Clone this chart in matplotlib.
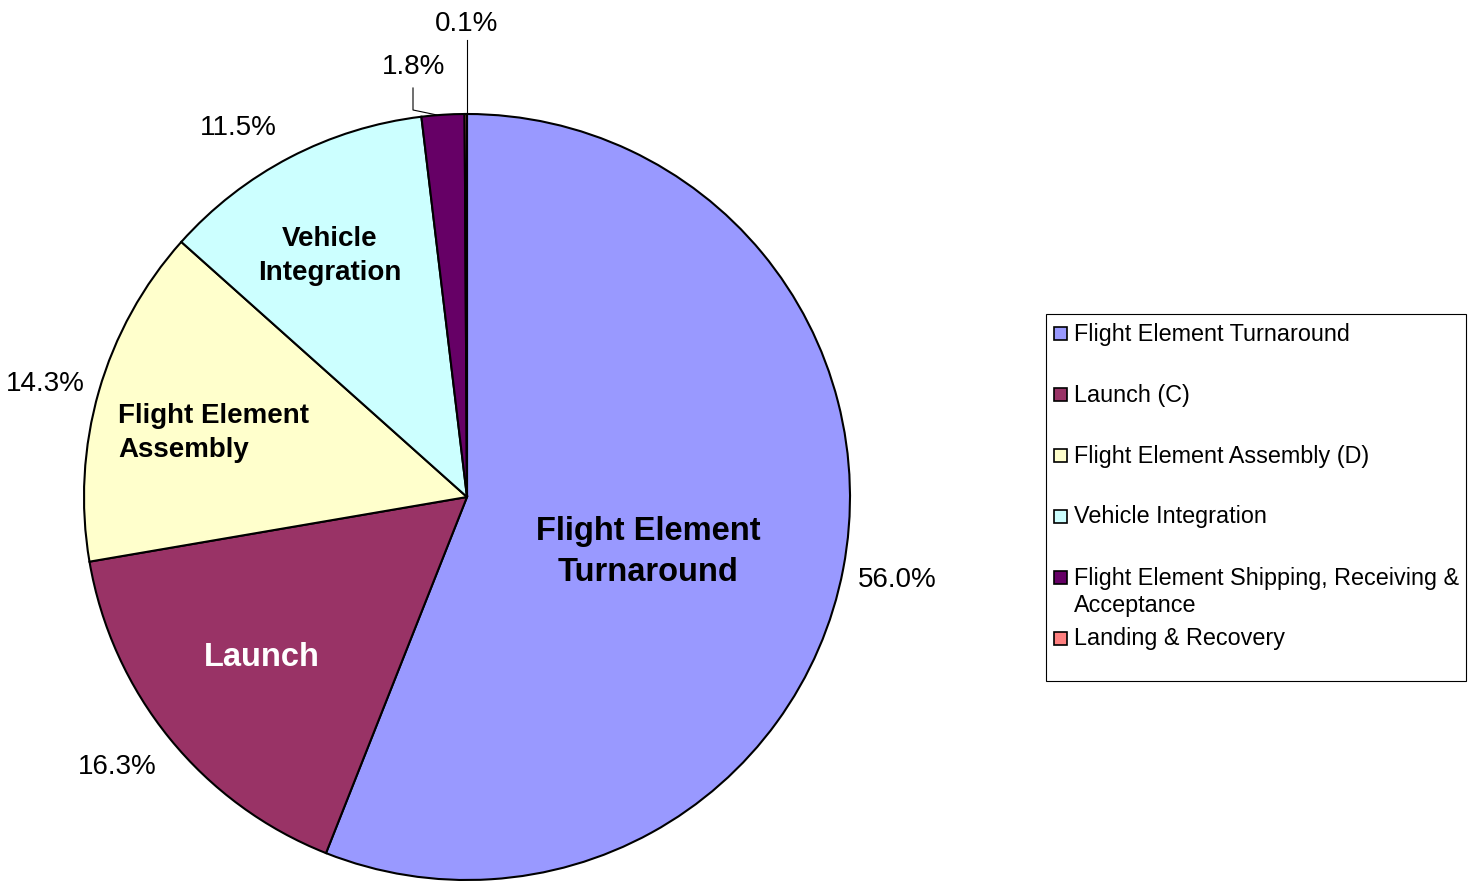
import matplotlib
matplotlib.use("Agg")
import matplotlib.pyplot as plt
from matplotlib.patches import Rectangle

plt.rcParams['font.family'] = ['Liberation Sans', 'DejaVu Sans']

categories = ["Flight Element Turnaround", "Launch (C)", "Flight Element Assembly (D)",
              "Vehicle Integration", "Flight Element Shipping, Receiving &\nAcceptance",
              "Landing & Recovery"]
values = [56.0, 16.3, 14.3, 11.5, 1.8, 0.1]
colors = ["#9999FF", "#993366", "#FFFFCC", "#CCFFFF", "#660066", "#FF8080"]
inner_labels = ["Flight Element\nTurnaround", "Launch", "Flight Element\nAssembly",
                "Vehicle\nIntegration", "", ""]

W, H = 1470, 886
fig = plt.figure(figsize=(W / 100, H / 100), dpi=100)
ax = fig.add_axes([0, 0, 1, 1])

cx, cy, R = 467, H - 497, 383
wedges, _ = ax.pie(values, colors=colors, startangle=90, counterclock=False,
                   center=(cx, cy), radius=R, frame=True,
                   wedgeprops=dict(edgecolor='black', linewidth=1.5))
ax.set_xlim(0, W)
ax.set_ylim(0, H)
ax.set_aspect('equal')
ax.axis('off')

# percentage label positions (layout, in pixels from top-left)
pct_pos = [(897, 580), (117, 767), (45, 384), (238, 128), (414, 67), (467, 24)]
for v, (px, py) in zip(values, pct_pos):
    ax.text(px, H - py, f"{v:.1f}%", fontsize=20, ha='center', va='center')
# leader lines
ax.plot([413, 413, 437], [H - 88, H - 110, H - 115], color='black', lw=0.8)
ax.plot([467, 467], [H - 40, H - 114], color='black', lw=0.8)

# inner labels
ax.text(648, H - 552, inner_labels[0], fontsize=23.5, fontweight='bold', ha='center',
        va='center', linespacing=1.38)
ax.text(262, H - 658, inner_labels[1], fontsize=23.5, fontweight='bold', ha='center',
        va='center', color='white')
ax.text(118, H - 433, inner_labels[2], fontsize=20, fontweight='bold', ha='left',
        va='center', linespacing=1.4)
ax.text(330, H - 256, inner_labels[3], fontsize=20, fontweight='bold', ha='center',
        va='center', linespacing=1.38)

# legend box
ax.add_patch(Rectangle((1046, H - 681), 420, 367, facecolor='white', edgecolor='black', lw=0.8))
rows = [333, 394, 455, 516, 577, 638]
for lab, col, y in zip(categories, colors, rows):
    ax.add_patch(Rectangle((1054, H - y - 7), 13, 13, facecolor=col, edgecolor='black', lw=1.2))
    if '\n' in lab:
        ax.text(1074, H - y + 10, lab, fontsize=16.8, ha='left', va='top', linespacing=1.2)
    else:
        ax.text(1074, H - y - 1, lab, fontsize=16.8, ha='left', va='center')

fig.savefig("out.png", dpi=100)
